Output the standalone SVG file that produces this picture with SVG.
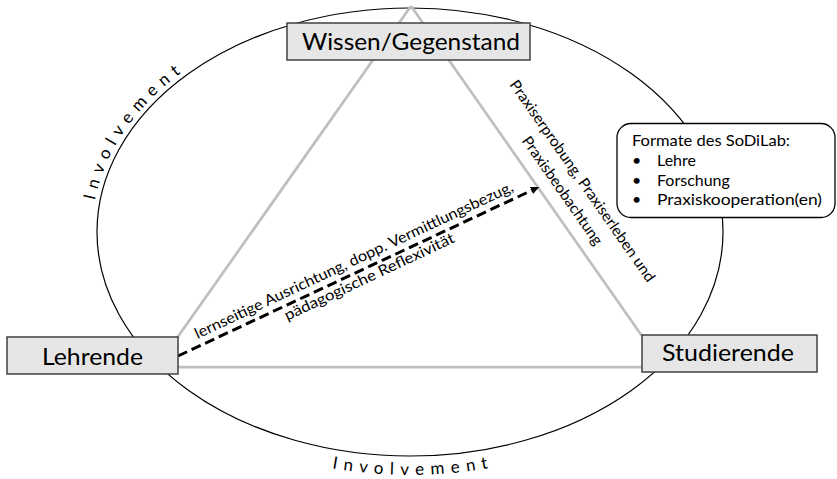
<svg xmlns="http://www.w3.org/2000/svg" width="837" height="479" viewBox="0 0 837 479">
  <style>
    text { font-family: Lato, "Open Sans", "Liberation Sans", sans-serif; fill: #000; }
    .box { fill: #e7e6e6; stroke: #404040; stroke-width: 1.5; }
    .node { font-size: 24px; }
    .tri { stroke: #bfbfbf; stroke-width: 2.75; fill: none; }
    .lbl { font-size: 15px; }
    .fmt { font-size: 16px; }
    .inv { font-size: 17px; letter-spacing: 6.5px; }
  </style>
  <defs>
    <marker id="ah" markerUnits="userSpaceOnUse" markerWidth="9" markerHeight="8" refX="0" refY="3.75" orient="auto">
      <path d="M0,0 L8.5,3.75 L0,7.5 z" fill="#000"/>
    </marker>
    <path id="invL" d="M 96.8 271.8 A 318 229 0 0 1 260.7 29.8"/>
    <path id="invB" d="M 243.5 442.4 A 333 243 0 0 0 576.5 442.4"/>
  </defs>

  <g id="involvement">
    <ellipse cx="410" cy="232" rx="313" ry="224" fill="none" stroke="#000" stroke-width="1.2"/>
    <text class="inv"><textPath href="#invL" startOffset="48%" text-anchor="middle">Involvement</textPath></text>
    <text class="inv"><textPath href="#invB" startOffset="51%" text-anchor="middle">Involvement</textPath></text>
  </g>

  <g id="connectors">
    <line class="tri" x1="411" y1="6" x2="177" y2="338"/>
    <line class="tri" x1="411" y1="6" x2="642" y2="336"/>
    <line class="tri" x1="177" y1="367" x2="642" y2="367"/>
    <line x1="178" y1="356" x2="531.5" y2="190.5" stroke="#000" stroke-width="3" stroke-dasharray="10 5" marker-end="url(#ah)"/>
  </g>

  <g id="node-wissen">
    <rect class="box" x="287" y="23" width="243" height="37"/>
    <text class="node" x="411" y="49.5" text-anchor="middle" textLength="218" lengthAdjust="spacingAndGlyphs">Wissen/Gegenstand</text>
  </g>

  <g id="node-lehrende">
    <rect class="box" x="7" y="337" width="171" height="37"/>
    <text class="node" x="92.5" y="365" text-anchor="middle" textLength="101" lengthAdjust="spacingAndGlyphs">Lehrende</text>
  </g>

  <g id="node-studierende">
    <rect class="box" x="642" y="335" width="175" height="37"/>
    <text class="node" x="728" y="361" text-anchor="middle" textLength="132" lengthAdjust="spacingAndGlyphs">Studierende</text>
  </g>

  <g id="node-formate">
    <rect x="617" y="123.5" width="218" height="94" rx="14" ry="14" fill="#fff" stroke="#000" stroke-width="1.3"/>
    <text class="fmt" x="632" y="146" textLength="158" lengthAdjust="spacingAndGlyphs">Formate des SoDiLab:</text>
    <text class="fmt" x="632" y="166">•</text>
    <text class="fmt" x="657" y="166">Lehre</text>
    <text class="fmt" x="632" y="185.5">•</text>
    <text class="fmt" x="657" y="185.5">Forschung</text>
    <text class="fmt" x="632" y="204.5">•</text>
    <text class="fmt" x="657" y="204.5" textLength="165" lengthAdjust="spacingAndGlyphs">Praxiskooperation(en)</text>
  </g>

  <g id="label-arrow" transform="translate(358 271.5) rotate(-25.1)">
    <text class="lbl" x="1" y="-7" text-anchor="middle" textLength="350" lengthAdjust="spacingAndGlyphs">lernseitige Ausrichtung, dopp. Vermittlungsbezug,</text>
    <text class="lbl" x="8" y="14.5" text-anchor="middle" textLength="186" lengthAdjust="spacingAndGlyphs">pädagogische Reflexivität</text>
  </g>

  <g id="label-praxis" transform="translate(548.3 202.9) rotate(55.1)">
    <text class="lbl" x="1.5" y="-35.5" text-anchor="middle" textLength="242" lengthAdjust="spacingAndGlyphs">Praxiserprobung, Praxiserleben und</text>
    <text class="lbl" x="-2" y="-13.5" text-anchor="middle" textLength="129" lengthAdjust="spacingAndGlyphs">Praxisbeobachtung</text>
  </g>
</svg>
